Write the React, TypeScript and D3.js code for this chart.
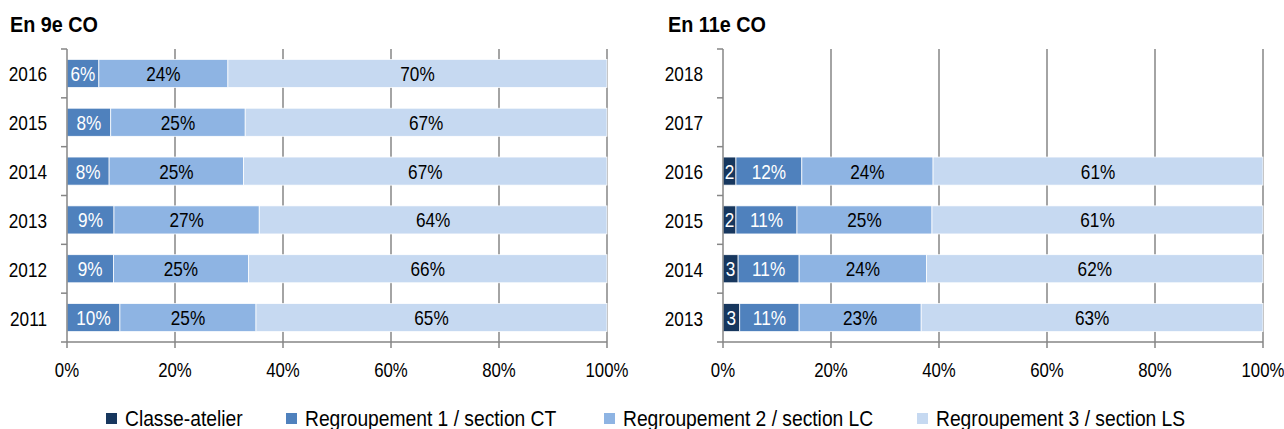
import React from "react";
import * as d3 from "d3";

// séries (ordre d'empilement)
const seriesNames = [
  "Classe-atelier",
  "Regroupement 1 / section CT",
  "Regroupement 2 / section LC",
  "Regroupement 3 / section LS",
];
const seriesColors = ["#17375e", "#4f81bd", "#8eb4e3", "#c6d9f1"];

// En 9e CO
const years9 = ["2016", "2015", "2014", "2013", "2012", "2011"];
const classe9 = [0, 0, 0, 0, 0, 0];
const reg1_9 = [5.9, 8.1, 7.8, 8.7, 8.6, 9.8];
const reg2_9 = [23.9, 24.9, 24.9, 26.9, 25.0, 25.2];
const reg3_9 = [70.2, 67.0, 67.3, 64.4, 66.4, 65.0];

// En 11e CO
const years11 = ["2018", "2017", "2016", "2015", "2014", "2013"];
const classe11 = [0, 0, 2.4, 2.4, 2.8, 3.1];
const reg1_11 = [0, 0, 12.2, 11.3, 11.3, 11.0];
const reg2_11 = [0, 0, 24.3, 25.0, 23.6, 22.6];
const reg3_11 = [0, 0, 61.1, 61.3, 62.3, 63.3];

const xTicks = [0, 20, 40, 60, 80, 100];

const FONT = "'Liberation Sans', Arial, sans-serif";
const GRID = "#868686";

const NText = ({ x, y, sx = 0.9, size = 19, anchor = "middle", fill = "#000", weight = "normal", children }: any) => (
  <text
    transform={`translate(${x},${y}) scale(${sx},1)`}
    textAnchor={anchor}
    fontSize={size}
    fontWeight={weight}
    fill={fill}
    fontFamily={FONT}
  >
    {children}
  </text>
);

const Panel = ({ title, titleX, x0, years, cols }: any) => {
  const top = 49;
  const bottom = 342;
  const x = d3.scaleLinear().domain([0, 100]).range([x0, x0 + 540]);
  const y = d3.scaleBand().domain(years).range([top, bottom]).paddingInner(0.425).paddingOuter(0.2125);
  const step = y.step();

  const rows = years.map((yr: string, i: number) => {
    const vals = cols.map((c: number[]) => c[i]);
    const stack = d3.cumsum(vals);
    return { yr, vals, ends: Array.from(stack) };
  });

  return (
    <g>
      <NText x={titleX} y={32} anchor="start" weight="bold" size={22} sx={0.9}>
        {title}
      </NText>
      {/* grille verticale */}
      {xTicks.slice(1).map((t) => (
        <line key={t} x1={x(t)} x2={x(t)} y1={top} y2={bottom + 6} stroke={GRID} strokeWidth={1.5} />
      ))}
      {/* barres */}
      {rows.map((r: any) =>
        r.vals.map((v: number, j: number) => {
          if (!v) return null;
          const start = r.ends[j] - v;
          const bx = x(start);
          const bw = x(r.ends[j]) - bx;
          const cy = (y(r.yr) as number) + y.bandwidth() / 2;
          const label = j === 0 ? `${Math.round(v)}` : `${Math.round(v)}%`;
          return (
            <g key={r.yr + j}>
              <rect x={bx} y={y(r.yr)} width={bw} height={y.bandwidth()} fill={seriesColors[j]} stroke="#fff" strokeWidth={0.75} />
              <NText x={bx + bw / 2} y={cy + 7.5} size={20} sx={0.86} fill={j < 2 ? "#fff" : "#000"}>
                {label}
              </NText>
            </g>
          );
        })
      )}
      {/* axe vertical */}
      <line x1={x0} x2={x0} y1={top} y2={bottom + 6} stroke={GRID} strokeWidth={1.5} />
      {d3.range(years.length + 1).map((k) => (
        <line key={k} x1={x0 - 6} x2={x0} y1={top + k * step} y2={top + k * step} stroke={GRID} strokeWidth={1.5} />
      ))}
      {/* axe horizontal */}
      <line x1={x0} x2={x(100)} y1={bottom} y2={bottom} stroke={GRID} strokeWidth={1.5} />
      {years.map((yr: string) => (
        <NText key={yr} x={x0 - 20} y={(y(yr) as number) + y.bandwidth() / 2 + 8} anchor="end" size={20} sx={0.86}>
          {yr}
        </NText>
      ))}
      {xTicks.map((t) => (
        <NText key={t} x={x(t)} y={377} sx={0.8} size={21}>
          {t}%
        </NText>
      ))}
    </g>
  );
};

const legendX = [106, 286, 604, 917];

export default function App() {
  return (
    <svg width={1284} height={429} style={{ display: "block", position: "absolute", left: 0, top: 0, background: "#fff" }}>
      <Panel title="En 9e CO" titleX={10} x0={67} years={years9} cols={[classe9, reg1_9, reg2_9, reg3_9]} />
      <Panel title="En 11e CO" titleX={668} x0={723} years={years11} cols={[classe11, reg1_11, reg2_11, reg3_11]} />
      {seriesNames.map((s, i) => (
        <g key={s}>
          <rect x={legendX[i]} y={413} width={11} height={11} fill={seriesColors[i]} />
          <NText x={legendX[i] + 19} y={426} anchor="start" size={22} sx={0.875}>
            {s}
          </NText>
        </g>
      ))}
    </svg>
  );
}
